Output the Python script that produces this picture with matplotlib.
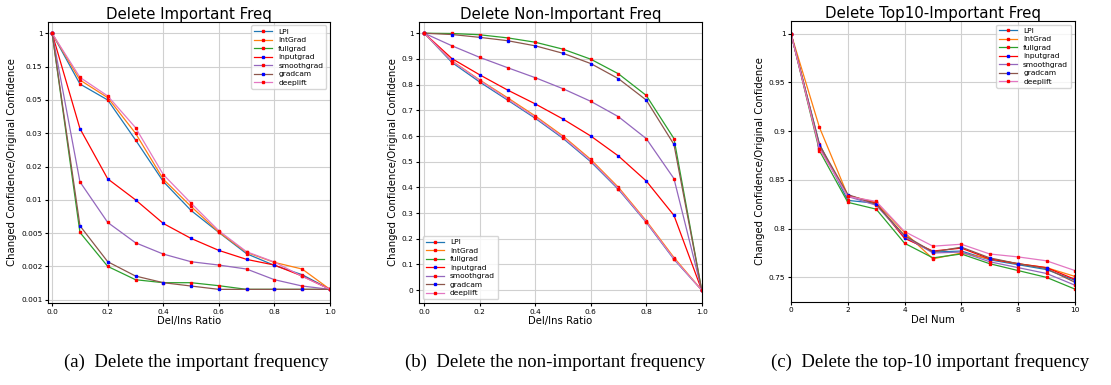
import numpy as np
import matplotlib
matplotlib.use("Agg")
import matplotlib.pyplot as plt

# data
methods = ['LPI', 'IntGrad', 'fullgrad', 'inputgrad', 'smoothgrad', 'gradcam', 'deeplift']
ratio = [0.0, 0.1, 0.2, 0.3, 0.4, 0.5, 0.6, 0.7, 0.8, 0.9, 1.0]
del_num = [0, 1, 2, 3, 4, 5, 6, 7, 8, 9, 10]

# (a) delete important freq
imp_lpi = [1.0, 0.098, 0.050, 0.028, 0.0155, 0.0084, 0.0051, 0.00314, 0.00209, 0.00175, 0.00131]
imp_intgrad = [1.0, 0.110, 0.057, 0.030, 0.0162, 0.0090, 0.00515, 0.00326, 0.00236, 0.00192, 0.00131]
imp_fullgrad = [1.0, 0.0051, 0.0020, 0.0016, 0.00151, 0.00151, 0.00142, 0.00131, 0.00131, 0.00131, 0.00131]
imp_inputgrad = [1.0, 0.0328, 0.0163, 0.0100, 0.00645, 0.00452, 0.00344, 0.00263, 0.00212, 0.00171, 0.00131]
imp_smoothgrad = [1.0, 0.0154, 0.0066, 0.00413, 0.00311, 0.00242, 0.00212, 0.00192, 0.0016, 0.00141, 0.00131]
imp_gradcam = [1.0, 0.0061, 0.00242, 0.00171, 0.00151, 0.00141, 0.00131, 0.00131, 0.00131, 0.00131, 0.00131]
imp_deeplift = [1.0, 0.118, 0.062, 0.0334, 0.0176, 0.0095, 0.00535, 0.00332, 0.00239, 0.0017, 0.00131]

# (b) delete non-important freq
non_lpi = [1.0, 0.886, 0.810, 0.740, 0.669, 0.591, 0.500, 0.392, 0.264, 0.120, 0.0]
non_intgrad = [1.0, 0.892, 0.818, 0.749, 0.678, 0.600, 0.509, 0.400, 0.270, 0.127, 0.0]
non_fullgrad = [1.0, 0.999, 0.994, 0.982, 0.965, 0.938, 0.899, 0.842, 0.758, 0.590, 0.0]
non_inputgrad = [1.0, 0.901, 0.838, 0.779, 0.725, 0.666, 0.600, 0.522, 0.425, 0.291, 0.0]
non_smoothgrad = [1.0, 0.951, 0.906, 0.866, 0.827, 0.784, 0.735, 0.675, 0.590, 0.434, 0.0]
non_gradcam = [1.0, 0.995, 0.984, 0.971, 0.951, 0.922, 0.882, 0.823, 0.740, 0.567, 0.0]
non_deeplift = [1.0, 0.891, 0.816, 0.744, 0.673, 0.595, 0.504, 0.395, 0.266, 0.122, 0.0]

# (c) delete top10 important freq
top_lpi = [1.0, 0.887, 0.829, 0.826, 0.791, 0.776, 0.777, 0.768, 0.763, 0.758, 0.747]
top_intgrad = [1.0, 0.904, 0.834, 0.827, 0.796, 0.769, 0.775, 0.769, 0.764, 0.760, 0.751]
top_fullgrad = [1.0, 0.880, 0.827, 0.820, 0.785, 0.770, 0.774, 0.764, 0.757, 0.750, 0.738]
top_inputgrad = [1.0, 0.883, 0.834, 0.826, 0.790, 0.777, 0.780, 0.769, 0.764, 0.760, 0.748]
top_smoothgrad = [1.0, 0.885, 0.833, 0.824, 0.792, 0.775, 0.776, 0.766, 0.760, 0.754, 0.742]
top_gradcam = [1.0, 0.886, 0.835, 0.825, 0.793, 0.776, 0.781, 0.770, 0.764, 0.759, 0.745]
top_deeplift = [1.0, 0.882, 0.833, 0.828, 0.797, 0.782, 0.784, 0.774, 0.771, 0.767, 0.757]

imp_ticks = [0.001, 0.002, 0.005, 0.01, 0.02, 0.03, 0.05, 0.15, 1]
imp_ticklabels = ['0.001', '0.002', '0.005', '0.01', '0.02', '0.03', '0.05', '0.15', '1']
captions = ['(a)  Delete the important frequency',
            '(b)  Delete the non-important frequency',
            '(c)  Delete the top-10 important frequency']

line_colors = ['tab:blue', 'tab:orange', 'tab:green', 'red', 'tab:purple', 'tab:brown', 'tab:pink']
mark_colors = ['red', 'red', 'red', 'blue', 'red', 'blue', 'red']

# evenly spaced custom y scale for panel (a)
sc_vals = np.array([0.0] + imp_ticks + [1.85])
sc_pos = np.arange(len(sc_vals)) - 1.0


def fwd(v):
    return np.interp(v, sc_vals, sc_pos)


def inv(p):
    return np.interp(p, sc_pos, sc_vals)


fig = plt.figure(figsize=(11.11, 3.85), dpi=100)
ax1 = fig.add_axes([0.0432, 0.213, 0.2538, 0.7307])
ax2 = fig.add_axes([0.3774, 0.213, 0.2542, 0.7307])
ax3 = fig.add_axes([0.712, 0.216, 0.2555, 0.7296])


def draw(ax, x, series, title, xlabel, loc):
    for ys, name, lc, mc in zip(series, methods, line_colors, mark_colors):
        ax.plot(x, ys, color=lc, lw=0.9, marker='s', ms=1.5, mfc=mc, mec=mc, label=name)
    ax.set_title(title, fontsize=10.8, pad=2)
    ax.set_xlabel(xlabel, fontsize=7.3, labelpad=1)
    ax.set_ylabel('Changed Confidence/Original Confidence', fontsize=7.3, labelpad=3)
    ax.grid(True, color='#d0d0d0', lw=0.8)
    ax.tick_params(labelsize=5.3, length=2.5, pad=1.5)
    ax.legend(loc=loc, fontsize=5.4, handlelength=2.4, labelspacing=0.3, borderpad=0.4, framealpha=0.8)


draw(ax1, ratio, [imp_lpi, imp_intgrad, imp_fullgrad, imp_inputgrad, imp_smoothgrad, imp_gradcam, imp_deeplift],
     'Delete Important Freq', 'Del/Ins Ratio', 'upper right')
ax1.set_yscale('function', functions=(fwd, inv))
ax1.set_yticks(imp_ticks)
ax1.set_yticklabels(imp_ticklabels)
ax1.minorticks_off()
ax1.set_ylim(0.0009, 1.30)
ax1.set_xlim(-0.015, 1.0)

draw(ax2, ratio, [non_lpi, non_intgrad, non_fullgrad, non_inputgrad, non_smoothgrad, non_gradcam, non_deeplift],
     'Delete Non-Important Freq', 'Del/Ins Ratio', 'lower left')
ax2.set_yticks(np.arange(0, 1.01, 0.1))
ax2.set_yticklabels(['0', '0.1', '0.2', '0.3', '0.4', '0.5', '0.6', '0.7', '0.8', '0.9', '1'])
ax2.set_ylim(-0.05, 1.045)
ax2.set_xlim(-0.018, 1.0)

draw(ax3, del_num, [top_lpi, top_intgrad, top_fullgrad, top_inputgrad, top_smoothgrad, top_gradcam, top_deeplift],
     'Delete Top10-Important Freq', 'Del Num', 'upper right')
ax3.set_yticks([0.75, 0.8, 0.85, 0.9, 0.95, 1.0])
ax3.set_yticklabels(['0.75', '0.8', '0.85', '0.9', '0.95', '1'])
ax3.set_xlim(0, 10)

for cx, txt in zip([0.177, 0.5, 0.837], captions):
    fig.text(cx, 0.06, txt, ha='center', va='center', fontsize=13.5, family='Liberation Serif')

fig.savefig('out.png', dpi=100)
